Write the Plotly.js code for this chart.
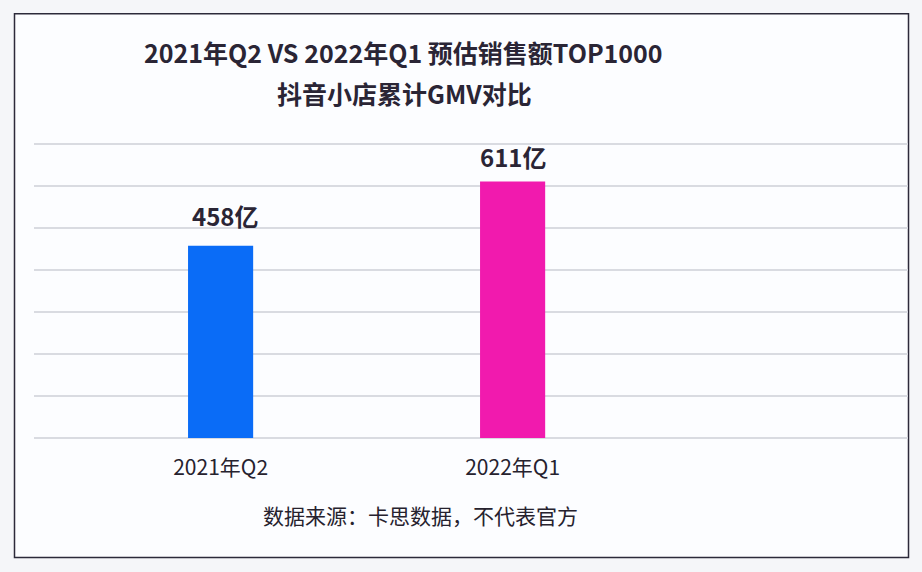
<!DOCTYPE html>
<html><head><meta charset="utf-8">
<script src="https://cdn.plot.ly/plotly-3.0.1.min.js"></script>
<style>html,body{margin:0;padding:0;background:#f5f6f9;}#c{width:922px;height:572px;}</style>
</head><body><div id="c"></div>
<script>
const categories = ["2021年Q2", "2022年Q1"];
const values = [458, 611];
const valueLabels = ["458亿", "611亿"];
const barColors = ["#0A6CF7", "#F11AAE"];
const titleLines = ["2021年Q2 VS 2022年Q1 预估销售额TOP1000", "抖音小店累计GMV对比"];
const sourceNote = "数据来源：卡思数据，不代表官方";

const W = 922, H = 572;
const yTop = 710;
const B = 134, L = 34, R = 14;
const ph = 0.42 * yTop;
const T = H - B - ph;
const pw = W - L - R;
const px = x => (x - L) / pw;
const py = y => (H - B - y) / ph;
const FONT = '"Noto Sans CJK SC", "Noto Sans", sans-serif';

const trace = {
  type: 'bar', x: categories, y: values,
  marker: {color: barColors, line: {width: 0}},
  width: 0.223, hoverinfo: 'none'
};

const annotations = [
  {xref:'paper', yref:'paper', x: px(403), y: py(52), text: '<b>' + titleLines[0] + '</b>', showarrow:false,
   xanchor:'center', yanchor:'middle', font:{family:FONT, size:25, color:'#2a2535'}},
  {xref:'paper', yref:'paper', x: px(404), y: py(93), text: '<b>' + titleLines[1] + '</b>', showarrow:false,
   xanchor:'center', yanchor:'middle', font:{family:FONT, size:25, color:'#2a2535'}},
  {xref:'paper', yref:'paper', x: px(420), y: py(515), text: sourceNote, showarrow:false,
   xanchor:'center', yanchor:'middle', font:{family:FONT, size:21, color:'#26222e'}}
];
const labelShift = [11, 6];
categories.forEach((c, i) => {
  annotations.push({x: c, y: values[i], xref:'x', yref:'y', text: '<b>' + valueLabels[i] + '</b>', showarrow:false,
    xanchor:'center', yanchor:'bottom', yshift: labelShift[i], xshift: i === 0 ? 4 : 0,
    font:{family:FONT, size:24, color:'#2a2535'}});
});

const layout = {
  width: W, height: H,
  margin: {l: L, r: R, t: T, b: B, pad: 0},
  paper_bgcolor: '#f5f6f9', plot_bgcolor: 'rgba(0,0,0,0)',
  showlegend: false,
  xaxis: {type:'category', range:[-0.639, 2.354], showgrid:false, zeroline:false, showline:false,
    ticks:'', tickfont:{family:FONT, size:21, color:'#26222e'}, ticklabelstandoff: 15, fixedrange:true},
  yaxis: {range:[0, yTop], dtick:100, showgrid:true, gridcolor:'#d9dbe1', gridwidth:1.5,
    zeroline:true, zerolinecolor:'#d9dbe1', zerolinewidth:1.5, showticklabels:false, ticks:'', showline:false, fixedrange:true},
  shapes: [
    {type:'rect', xref:'paper', yref:'paper', x0: px(14.5), x1: px(908.5), y0: py(557.5), y1: py(13.5),
     line:{color:'#2c2a3a', width:1.5}, fillcolor:'#fcfdff', layer:'below'}
  ],
  annotations: annotations
};

Plotly.newPlot('c', [trace], layout, {displayModeBar:false, staticPlot:true});
</script></body></html>
